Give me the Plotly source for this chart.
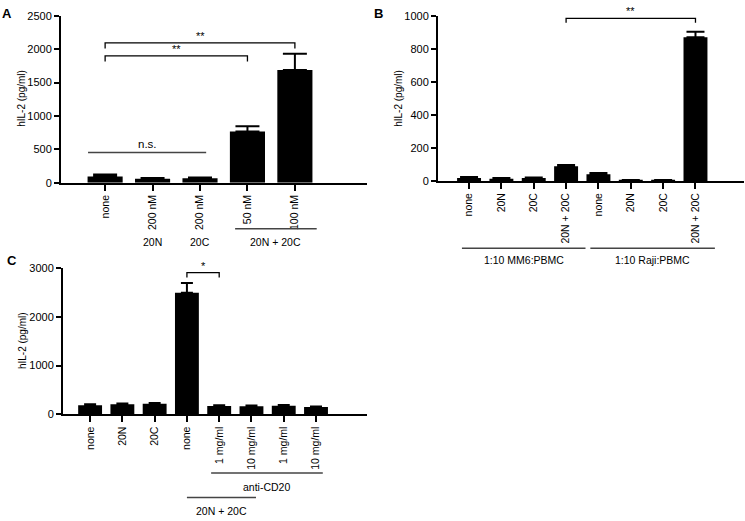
import plotly.graph_objects as go

# ---------------- data ----------------
A_labels = ["none", "200 nM", "200 nM", "50 nM", "100 nM"]
A_values = [95, 62, 68, 770, 1690]
A_err = [30, 10, 12, 75, 240]
A_groups = [("20N", 1, 1), ("20C", 2, 2), ("20N + 20C", 2.74, 4.46)]
A_brackets = [(0, 4, 2095, "**"), (0, 3, 1900, "**")]
A_ns = (-0.36, 2.13, 453, "n.s.")
A_yticks = [0, 500, 1000, 1500, 2000, 2500]

B_labels = ["none", "20N", "20C", "20N + 20C", "none", "20N", "20C", "20N + 20C"]
B_values = [18, 13, 17, 88, 40, 3, 3, 870]
B_err = [5, 4, 4, 8, 8, 2, 2, 33]
B_groups = [("1:10 MM6:PBMC", -0.22, 3.6), ("1:10 Raji:PBMC", 3.75, 7.6)]
B_brackets = [(3, 7, 984, "**")]
B_yticks = [0, 200, 400, 600, 800, 1000]

C_labels = ["none", "20N", "20C", "none", "1 mg/ml", "10 mg/ml", "1 mg/ml", "10 mg/ml"]
C_values = [185, 205, 215, 2490, 170, 165, 175, 150]
C_err = [20, 20, 20, 200, 15, 15, 15, 10]
C_groups = [("anti-CD20", 3.75, 7.21, 478, 492), ("20N + 20C", 3.0, 5.14, 503, 517)]
C_brackets = [(3, 4, 2900, "*")]
C_yticks = [0, 1000, 2000, 3000]

W, H = 745, 521
FONT = "Liberation Sans, Arial, sans-serif"
TICK_FS = 11
XLAB_FS = 10.5
GRP_FS = 10.5


def px_x(p):
    return p / W


def px_y(p):
    return 1 - p / H


fig = go.Figure()

panels = [
    # name, labels, values, err, xdom(px), ydom(px), xrange, yticks, capw
    ("", A_labels, A_values, A_err, (61, 367), (181, 10), (-0.93, 5.52), A_yticks, 12),
    ("2", B_labels, B_values, B_err, (438, 744), (179, 10), (-0.96, 8.5), B_yticks, 9),
    ("3", C_labels, C_values, C_err, (63, 367), (418, 268), (-0.84, 8.58), C_yticks, 6),
]

for name, labels, vals, err, xd, yd, xr, yt, capw in panels:
    xs = list(range(len(vals)))
    fig.add_trace(go.Bar(
        x=xs, y=vals, width=0.74,
        marker=dict(color="black", line=dict(width=0)),
        error_y=dict(type="data", array=err, arrayminus=[0] * len(err),
                     color="black", thickness=2, width=capw),
        xaxis="x" + name, yaxis="y" + name, showlegend=False,
    ))
    fig.layout["xaxis" + name] = dict(
        domain=[px_x(xd[0]), px_x(xd[1])], range=list(xr),
        anchor="y" + name, tickmode="array", tickvals=xs, ticktext=labels,
        tickangle=-90, ticks="outside", ticklen=6, tickwidth=2, tickcolor="black",
        showline=True, linecolor="black", linewidth=2, showgrid=False,
        zeroline=False, tickfont=dict(family=FONT, size=XLAB_FS, color="black"),
        fixedrange=True,
    )
    fig.layout["yaxis" + name] = dict(
        domain=[px_y(yd[0]), px_y(yd[1])], range=[0, yt[-1]],
        anchor="x" + name, tickmode="array", tickvals=yt,
        ticks="outside", ticklen=5, tickwidth=2, tickcolor="black",
        showline=True, linecolor="black", linewidth=2, showgrid=False,
        zeroline=False, tickfont=dict(family=FONT, size=TICK_FS, color="black"),
        fixedrange=True,
    )


def add_brackets(brackets, name, leg):
    xa, ya = "x" + name, "y" + name
    for x0, x1, y, txt in brackets:
        fig.add_trace(go.Scatter(
            x=[x0, x0, x1, x1], y=[y - leg, y, y, y - leg], mode="lines",
            line=dict(color="black", width=1.3), xaxis=xa, yaxis=ya,
            showlegend=False, hoverinfo="skip", cliponaxis=False,
        ))
        fig.add_annotation(x=(x0 + x1) / 2, y=y, xref=xa, yref=ya, text=txt,
                           showarrow=False, xanchor="center", yanchor="bottom", yshift=-1,
                           font=dict(family=FONT, size=11, color="black"))


add_brackets(A_brackets, "", 85)
add_brackets(B_brackets, "2", 27)
add_brackets(C_brackets, "3", 100)

# n.s. line
x0, x1, y, txt = A_ns
fig.add_trace(go.Scatter(x=[x0, x1], y=[y, y], mode="lines",
                         line=dict(color="#444", width=1.5), xaxis="x", yaxis="y",
                         showlegend=False, hoverinfo="skip"))
fig.add_annotation(x=(x0 + x1) / 2, y=y, xref="x", yref="y", text=txt,
                   showarrow=False, xanchor="center", yanchor="bottom", yshift=1,
                   font=dict(family=FONT, size=11.5, color="black"))

# group labels / lines
for txt, g0, g1 in A_groups:
    if g1 > g0:
        fig.add_shape(type="line", xref="x", yref="paper", x0=g0, x1=g1,
                      y0=px_y(228), y1=px_y(228), line=dict(color="#444", width=1.5))
    fig.add_annotation(x=(g0 + g1) / 2, y=px_y(242), xref="x", yref="paper",
                       text=txt, showarrow=False, xanchor="center", yanchor="middle",
                       font=dict(family=FONT, size=GRP_FS, color="black"))

for txt, g0, g1 in B_groups:
    fig.add_shape(type="line", xref="x2", yref="paper", x0=g0, x1=g1,
                  y0=px_y(248), y1=px_y(248), line=dict(color="#444", width=1.5))
    fig.add_annotation(x=(g0 + g1) / 2, y=px_y(260), xref="x2", yref="paper",
                       text=txt, showarrow=False, xanchor="center", yanchor="middle",
                       font=dict(family=FONT, size=GRP_FS, color="black"))

for txt, g0, g1, ly, ty in C_groups:
    fig.add_shape(type="line", xref="x3", yref="paper", x0=g0, x1=g1,
                  y0=px_y(ly), y1=px_y(ly), line=dict(color="#444", width=1.5))
    fig.add_annotation(x=(g0 + g1) / 2, y=px_y(ty), xref="x3", yref="paper",
                       text=txt, showarrow=False, xanchor="center", yanchor="middle",
                       font=dict(family=FONT, size=GRP_FS, color="black"))

# y-axis titles
for xp, yp in [(22, 95), (399, 95), (22, 343)]:
    fig.add_annotation(x=px_x(xp), y=px_y(yp), xref="paper", yref="paper",
                       text="hIL-2 (pg/ml)", textangle=-90, showarrow=False,
                       xanchor="center", yanchor="middle",
                       font=dict(family=FONT, size=10, color="black"))

# panel letters
for txt, xp, yp in [("A", 7, 8), ("B", 378, 8), ("C", 12, 260)]:
    fig.add_annotation(x=px_x(xp), y=px_y(yp), xref="paper", yref="paper",
                       text="<b>%s</b>" % txt, showarrow=False,
                       xanchor="center", yanchor="middle",
                       font=dict(family=FONT, size=13, color="black"))

fig.update_layout(
    width=W, height=H, margin=dict(l=0, r=0, t=0, b=0),
    paper_bgcolor="white", plot_bgcolor="white", bargap=0.26,
    font=dict(family=FONT, color="black"),
)

fig.write_html("out.html", config={"displayModeBar": False},
               post_script="document.body.style.margin='0';document.body.style.overflow='hidden';")
